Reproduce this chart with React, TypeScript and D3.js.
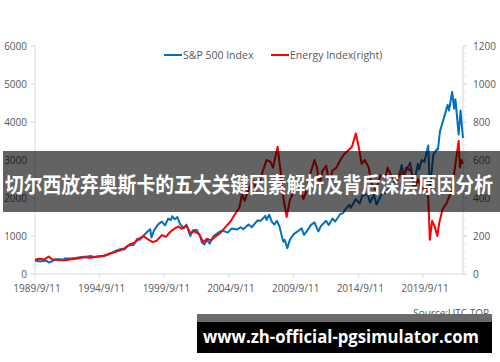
import React, { useEffect, useRef } from "react";
import * as d3 from "d3";

// S&P 500 (left axis), [decimal year, value]
const spxYears = [
  1989.7, 1989.9, 1990.1, 1990.5, 1990.8, 1991.0, 1991.3, 1991.6, 1991.9, 1992.0, 1992.5, 1992.9,
  1993.3, 1993.7, 1994.0, 1994.3, 1994.6, 1995.0, 1995.4, 1995.8, 1996.0, 1996.4, 1996.6, 1996.9,
  1997.3, 1997.6, 1997.8, 1998.0, 1998.4, 1998.6, 1998.7, 1998.9, 1999.2, 1999.5, 1999.75, 2000.0,
  2000.2, 2000.3, 2000.5, 2000.7, 2000.9, 2001.2, 2001.4, 2001.7, 2001.9, 2002.2, 2002.5, 2002.6,
  2002.8, 2003.0, 2003.2, 2003.5, 2003.9, 2004.2, 2004.6, 2004.9, 2005.3, 2005.6, 2005.8, 2006.2,
  2006.45, 2006.9, 2007.15, 2007.5, 2007.6, 2007.8, 2008.0, 2008.2, 2008.4, 2008.6, 2008.8, 2008.9,
  2009.0, 2009.2, 2009.4, 2009.7, 2010.0, 2010.3, 2010.5, 2010.7, 2011.0, 2011.3, 2011.6, 2011.8,
  2012.2, 2012.4, 2012.7, 2012.9, 2013.3, 2013.5, 2013.8, 2014.0, 2014.1, 2014.5, 2014.8, 2015.0,
  2015.4, 2015.6, 2015.9, 2016.1, 2016.6, 2016.8, 2017.1, 2017.5, 2017.9, 2018.05, 2018.2, 2018.7,
  2018.98, 2019.3, 2019.4, 2019.6, 2019.8, 2020.1, 2020.22, 2020.5, 2020.8, 2020.85, 2021.0, 2021.3,
  2021.6, 2021.7, 2021.95, 2022.1, 2022.2, 2022.45, 2022.6, 2022.7, 2022.78,
];
const spxValues = [
  350, 340, 330, 358, 300, 330, 385, 385, 375, 410, 410, 425,
  445, 460, 475, 445, 460, 465, 520, 580, 620, 665, 640, 750,
  760, 930, 900, 980, 1120, 1180, 960, 1150, 1300, 1380, 1280, 1460,
  1420, 1520, 1440, 1500, 1320, 1200, 1300, 1000, 1150, 1160, 950, 830,
  780, 900, 800, 1000, 1100, 1140, 1090, 1200, 1170, 1230, 1180, 1300,
  1230, 1410, 1400, 1530, 1420, 1560, 1380, 1300, 1400, 1250, 960, 850,
  900, 680, 900, 1050, 1120, 1200, 1030, 1120, 1280, 1360, 1120, 1260,
  1400, 1290, 1460, 1380, 1580, 1600, 1750, 1820, 1740, 1970, 1860, 2060,
  2110, 1880, 2080, 1830, 2170, 2120, 2280, 2440, 2650, 2870, 2590, 2930,
  2350, 2900, 2750, 3000, 2950, 3380, 2240, 3150, 3300, 3270, 3750, 4100,
  4450, 4300, 4790, 4350, 4600, 3670, 4300, 3900, 3580,
];

// Energy index (right axis)
const energyYears = [
  1989.7, 1990.0, 1990.4, 1990.75, 1991.0, 1991.5, 1992.0, 1992.5, 1993.0, 1993.5, 1994.0, 1994.5,
  1995.0, 1995.5, 1996.0, 1996.5, 1997.0, 1997.4, 1997.8, 1998.1, 1998.5, 1998.8, 1999.1, 1999.5,
  1999.8, 2000.2, 2000.5, 2000.8, 2001.0, 2001.4, 2001.7, 2002.0, 2002.4, 2002.7, 2003.0, 2003.3,
  2003.7, 2004.0, 2004.4, 2004.8, 2005.2, 2005.5, 2005.7, 2005.9, 2006.3, 2006.6, 2006.8, 2007.0,
  2007.3, 2007.6, 2007.9, 2008.1, 2008.45, 2008.7, 2008.9, 2009.15, 2009.4, 2009.7, 2009.9, 2010.2,
  2010.45, 2010.7, 2010.95, 2011.3, 2011.5, 2011.7, 2011.9, 2012.2, 2012.45, 2012.7, 2013.0, 2013.3,
  2013.6, 2013.9, 2014.2, 2014.5, 2014.75, 2014.95, 2015.2, 2015.5, 2015.7, 2016.05, 2016.4, 2016.8,
  2016.95, 2017.3, 2017.6, 2017.95, 2018.15, 2018.4, 2018.8, 2018.98, 2019.3, 2019.6, 2019.9, 2020.1,
  2020.22, 2020.4, 2020.6, 2020.8, 2020.95, 2021.2, 2021.5, 2021.8, 2022.0, 2022.2, 2022.45, 2022.55,
  2022.65, 2022.78,
];
const energyValues = [
  75, 80, 76, 92, 78, 74, 72, 78, 82, 88, 86, 92,
  96, 108, 118, 130, 155, 165, 190, 198, 180, 168, 175, 205,
  195, 225, 240, 250, 238, 255, 215, 225, 210, 168, 185, 178,
  200, 215, 245, 275, 320, 350, 420, 385, 460, 490, 440, 470,
  540, 600, 590, 560, 670, 530, 400, 300, 390, 430, 460, 450,
  395, 440, 520, 600, 560, 460, 540, 570, 480, 545, 560, 600,
  630, 650, 670, 740, 660, 580, 600, 560, 480, 440, 520, 510,
  560, 510, 480, 540, 490, 560, 540, 440, 500, 450, 460, 400,
  180, 280, 250, 200, 270, 340, 370, 420, 470, 580, 700, 560,
  600, 580,
];

const leftTicks = [0, 1000, 2000, 3000, 4000, 5000, 6000];
const rightTicks = [0, 200, 400, 600, 800, 1000, 1200];
const dateTicks = ["1989-09-11", "1994-09-11", "1999-09-11", "2004-09-11", "2009-09-11", "2014-09-11", "2019-09-11"];

const title = "切尔西放弃奥斯卡的五大关键因素解析及背后深层原因分析";
const watermark = "www.zh-official-pgsimulator.com";

const toDate = (y: number) => {
  const yr = Math.floor(y);
  const start = new Date(yr, 0, 1).getTime();
  const end = new Date(yr + 1, 0, 1).getTime();
  return new Date(start + (y - yr) * (end - start));
};

const App = () => {
  const ref = useRef<SVGSVGElement>(null);

  useEffect(() => {
    const svg = d3.select(ref.current);
    svg.selectAll("*").remove();

    const font = "'Open Sans', 'Liberation Sans', sans-serif";
    const axisColor = "#d9d9d9";
    const labelColor = "#595959";

    const x = d3.scaleTime()
      .domain([new Date(1989, 8, 11), new Date(2022, 9, 15)])
      .range([35, 463]);
    const yL = d3.scaleLinear().domain([0, 6000]).range([274, 46]);
    const yR = d3.scaleLinear().domain([0, 1200]).range([274, 46]);

    // axis lines
    svg.append("line").attr("x1", 35).attr("x2", 35).attr("y1", 46).attr("y2", 274)
      .attr("stroke", axisColor);
    svg.append("line").attr("x1", 463).attr("x2", 463).attr("y1", 46).attr("y2", 274)
      .attr("stroke", axisColor);
    svg.append("line").attr("x1", 35).attr("x2", 463).attr("y1", 274).attr("y2", 274)
      .attr("stroke", axisColor);

    // left axis
    const gl = svg.append("g");
    leftTicks.forEach(t => {
      gl.append("line").attr("x1", 31).attr("x2", 35).attr("y1", yL(t)).attr("y2", yL(t))
        .attr("stroke", axisColor);
      gl.append("text").attr("x", 27).attr("y", yL(t)).attr("dy", "0.35em")
        .attr("text-anchor", "end").attr("font-family", font).attr("font-size", 10)
        .attr("fill", labelColor).text(t);
    });

    // right axis with minor ticks
    const gr = svg.append("g");
    d3.range(0, 1201, 40).forEach(t => {
      gr.append("line").attr("x1", 463).attr("x2", 466).attr("y1", yR(t)).attr("y2", yR(t))
        .attr("stroke", "#e6e6e6");
    });
    rightTicks.forEach(t => {
      gr.append("line").attr("x1", 463).attr("x2", 467).attr("y1", yR(t)).attr("y2", yR(t))
        .attr("stroke", axisColor);
      gr.append("text").attr("x", 473).attr("y", yR(t)).attr("dy", "0.35em")
        .attr("text-anchor", "start").attr("font-family", font).attr("font-size", 10)
        .attr("fill", labelColor).text(t);
    });

    // bottom axis
    const fmt = d3.timeFormat("%Y/%-m/%-d");
    const gb = svg.append("g");
    dateTicks.map(d => d3.timeParse("%Y-%m-%d")(d) as Date).forEach(d => {
      gb.append("line").attr("x1", x(d)).attr("x2", x(d)).attr("y1", 274).attr("y2", 278)
        .attr("stroke", axisColor);
      gb.append("text").attr("x", x(d) + 2).attr("y", 288).attr("dy", "0.35em")
        .attr("text-anchor", "middle").attr("font-family", font).attr("font-size", 10)
        .attr("fill", labelColor).text(fmt(d));
    });

    // lines
    const spx = spxYears.map((y, i) => ({ d: toDate(y), v: spxValues[i] }));
    const energy = energyYears.map((y, i) => ({ d: toDate(y), v: energyValues[i] }));

    const lineL = d3.line<{ d: Date; v: number }>().x(p => x(p.d)).y(p => yL(p.v));
    const lineR = d3.line<{ d: Date; v: number }>().x(p => x(p.d)).y(p => yR(p.v));

    svg.append("path").datum(spx).attr("d", lineL).attr("fill", "none")
      .attr("stroke", "#0070c0").attr("stroke-width", 2).attr("stroke-linejoin", "round");
    svg.append("path").datum(energy).attr("d", lineR).attr("fill", "none")
      .attr("stroke", "#ff0000").attr("stroke-width", 2).attr("stroke-linejoin", "round");

    // legend
    const legend = [
      { label: "S&P 500 Index", color: "#0070c0", x: 164 },
      { label: "Energy Index(right)", color: "#ff0000", x: 271 },
    ];
    legend.forEach(l => {
      svg.append("line").attr("x1", l.x).attr("x2", l.x + 18).attr("y1", 55).attr("y2", 55)
        .attr("stroke", l.color).attr("stroke-width", 2);
      svg.append("text").attr("x", l.x + 19).attr("y", 55).attr("dy", "0.35em")
        .attr("font-family", font).attr("font-size", 10.5).attr("fill", labelColor).text(l.label);
    });

    // source
    svg.append("text").attr("x", 489).attr("y", 317).attr("text-anchor", "end")
      .attr("font-family", font).attr("font-size", 10).attr("fill", labelColor).text("Source:UTC.TOP");

    // title banner
    svg.append("rect").attr("x", 3).attr("y", 151).attr("width", 497).attr("height", 61)
      .attr("fill", "#000").attr("fill-opacity", 0.61);
    svg.append("text").attr("x", 5).attr("y", 185).attr("dy", "0.35em")
      .attr("font-family", "'Noto Sans CJK SC', sans-serif").attr("font-weight", "bold")
      .attr("font-size", 21).attr("fill", "#fff")
      .attr("textLength", 488).attr("lengthAdjust", "spacingAndGlyphs").text(title);

    // watermark box
    svg.append("rect").attr("x", 197).attr("y", 314).attr("width", 295).attr("height", 8)
      .attr("fill", "#6b6b6b");
    svg.append("rect").attr("x", 197).attr("y", 322).attr("width", 295).attr("height", 31)
      .attr("fill", "#000");
    svg.append("text").attr("x", 203).attr("y", 337).attr("dy", "0.35em")
      .attr("font-family", font).attr("font-weight", "bold").attr("font-size", 17)
      .attr("fill", "#fff").attr("textLength", 276).attr("lengthAdjust", "spacingAndGlyphs")
      .text(watermark);
  }, []);

  return (
    <svg ref={ref} width={500} height={362}
      style={{ position: "absolute", left: 0, top: 0, background: "#fff" }} />
  );
};

export default App;
